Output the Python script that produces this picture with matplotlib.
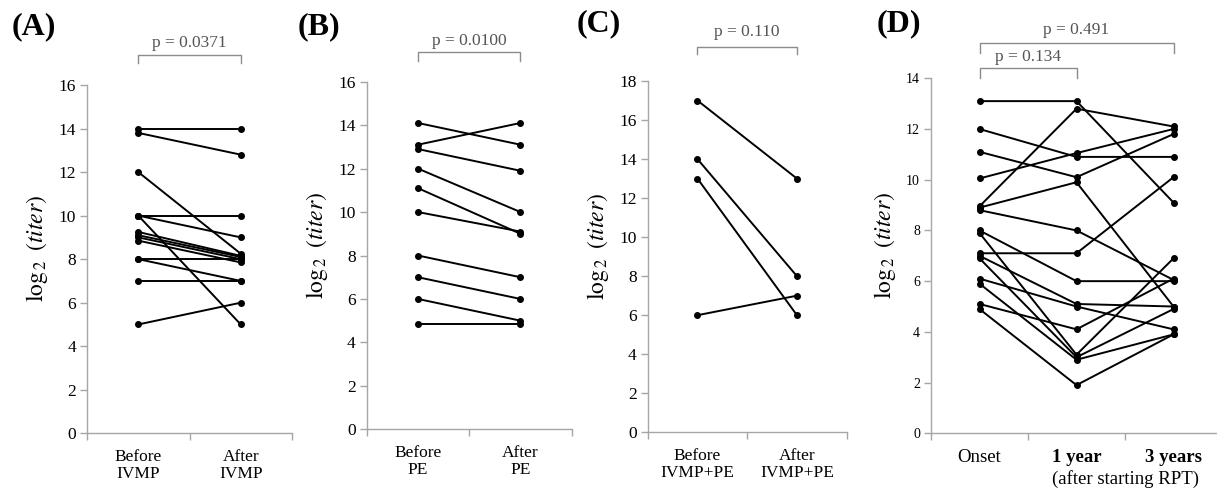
import matplotlib
matplotlib.use("Agg")
import matplotlib.pyplot as plt
import matplotlib.transforms as mtransforms

plt.rcParams['font.family'] = ['Liberation Serif', 'DejaVu Serif']
plt.rcParams['mathtext.fontset'] = 'stix'

# panel A: IVMP
a_labels = ["Before\nIVMP", "After\nIVMP"]
a_before = [14.0, 13.8, 12.0, 10.0, 10.0, 10.0, 9.25, 9.1, 9.0, 8.85, 8.0, 8.0, 7.0, 5.0]
a_after = [14.0, 12.8, 8.25, 10.0, 9.0, 5.0, 8.15, 8.1, 8.0, 7.85, 8.0, 7.0, 7.0, 6.0]

# panel B: PE
b_labels = ["Before\nPE", "After\nPE"]
b_before = [14.1, 13.1, 12.9, 12.0, 11.1, 10.0, 8.0, 7.0, 6.0, 4.85]
b_after = [13.1, 14.1, 11.9, 10.0, 9.0, 9.1, 7.0, 6.0, 5.0, 4.85]

# panel C: IVMP+PE
c_labels = ["Before\nIVMP+PE", "After\nIVMP+PE"]
c_before = [17, 14, 13, 6]
c_after = [13, 8, 6, 7]

# panel D: onset / 1 year / 3 years
d_labels = ["Onset", "1 year", "3 years"]
d_onset = [13.1, 12.0, 11.1, 10.05, 8.95, 8.9, 8.8, 8.0, 7.9, 7.1, 7.0, 6.9, 6.1, 5.9, 5.1, 4.9]
d_1year = [13.1, 10.9, 10.1, 11.05, 12.8, 9.9, 8.0, 6.0, 3.1, 7.1, 5.1, 3.0, 5.0, 2.9, 4.1, 1.9]
d_3year = [9.1, 10.9, 11.8, 12.0, 12.1, 5.0, 6.05, 6.0, 6.9, 10.1, 5.0, 4.9, 4.1, 3.9, 6.1, 3.9]

W, H = 1217, 492
fig = plt.figure(figsize=(W / 100, H / 100), dpi=100)

def box(x0, x1, ytop, ybot):
    return [x0 / W, 1 - ybot / H, (x1 - x0) / W, (ybot - ytop) / H]

axA = fig.add_axes(box(87, 292, 85, 433.3))
axB = fig.add_axes(box(366.7, 571.7, 81.7, 429.3))
axC = fig.add_axes(box(647.7, 846.7, 81, 432.3))
axD = fig.add_axes(box(931, 1222, 78.3, 433.3))

grey = '#a6a6a6'

def setup(ax, labels, ymax, ystep, tick_fs, xfs=12.5, bold=()):
    n = len(labels)
    ax.set_xlim(-0.5, n - 0.5)
    ax.set_ylim(0, ymax)
    ax.set_yticks(range(0, ymax + 1, ystep))
    ax.set_xticks([i - 0.5 for i in range(n + 1)])
    ax.set_xticklabels([])
    ax.set_xticks(range(n), minor=True)
    ax.set_xticklabels(labels, minor=True, fontsize=xfs, linespacing=1.1)
    for i, t in enumerate(ax.get_xticklabels(minor=True)):
        if i in bold:
            t.set_fontweight('bold')
    ax.tick_params(axis='x', which='minor', length=0, pad=11)
    ax.tick_params(axis='x', which='major', length=5, color=grey, width=1)
    ax.tick_params(axis='y', length=5, color=grey, width=1, labelsize=tick_fs, pad=3)
    for s in ['top', 'right']:
        ax.spines[s].set_visible(False)
    for s in ['left', 'bottom']:
        ax.spines[s].set_color(grey)
        ax.spines[s].set_linewidth(1)
    ax.set_ylabel(r'$\mathrm{log}_{\,2}\;\;(\mathit{titer})$', fontsize=17, labelpad=6)
    ax.yaxis.label.set_y(0.53)

def draw(ax, series):
    xs = list(range(len(series)))
    for vals in zip(*series):
        ax.plot(xs, vals, color='black', lw=1.4, marker='o', ms=4,
                clip_on=False, zorder=3)

def bracket(ax, x0, x1, ytop, ybot, text, ytext):
    tr = mtransforms.blended_transform_factory(ax.transData, ax.transAxes)
    ax.plot([x0, x0, x1, x1], [ybot, ytop, ytop, ybot], color='#8c8c8c',
            lw=1, transform=tr, clip_on=False)
    ax.text((x0 + x1) / 2, ytext, text, transform=tr, ha='center', va='center',
            fontsize=12.5, color='#555555')

setup(axA, a_labels, 16, 2, 12.5)
draw(axA, [a_before, a_after])
bracket(axA, 0, 1, 1.086, 1.063, 'p = 0.0371', 1.121)

setup(axB, b_labels, 16, 2, 12.5)
draw(axB, [b_before, b_after])
bracket(axB, 0, 1, 1.086, 1.060, 'p = 0.0100', 1.117)

setup(axC, c_labels, 18, 2, 12.5)
draw(axC, [c_before, c_after])
bracket(axC, 0, 1, 1.098, 1.077, 'p = 0.110', 1.140)

setup(axD, d_labels, 14, 2, 10, xfs=13.5, bold=(1, 2))
draw(axD, [d_onset, d_1year, d_3year])
bracket(axD, 0, 2, 1.100, 1.072, 'p = 0.491', 1.136)
bracket(axD, 0, 1, 1.028, 1.000, 'p = 0.134', 1.061)
axD.text(1.51, -0.128, '(after starting RPT)',
         transform=mtransforms.blended_transform_factory(axD.transData, axD.transAxes),
         ha='center', va='center', fontsize=13.5)

for lab, x, y in [('(A)', 12, 27), ('(B)', 298, 27), ('(C)', 577, 24), ('(D)', 877, 24)]:
    fig.text(x / W, 1 - y / H, lab, fontsize=23, fontweight='bold', ha='left', va='center')

fig.savefig('out.png', dpi=100)
